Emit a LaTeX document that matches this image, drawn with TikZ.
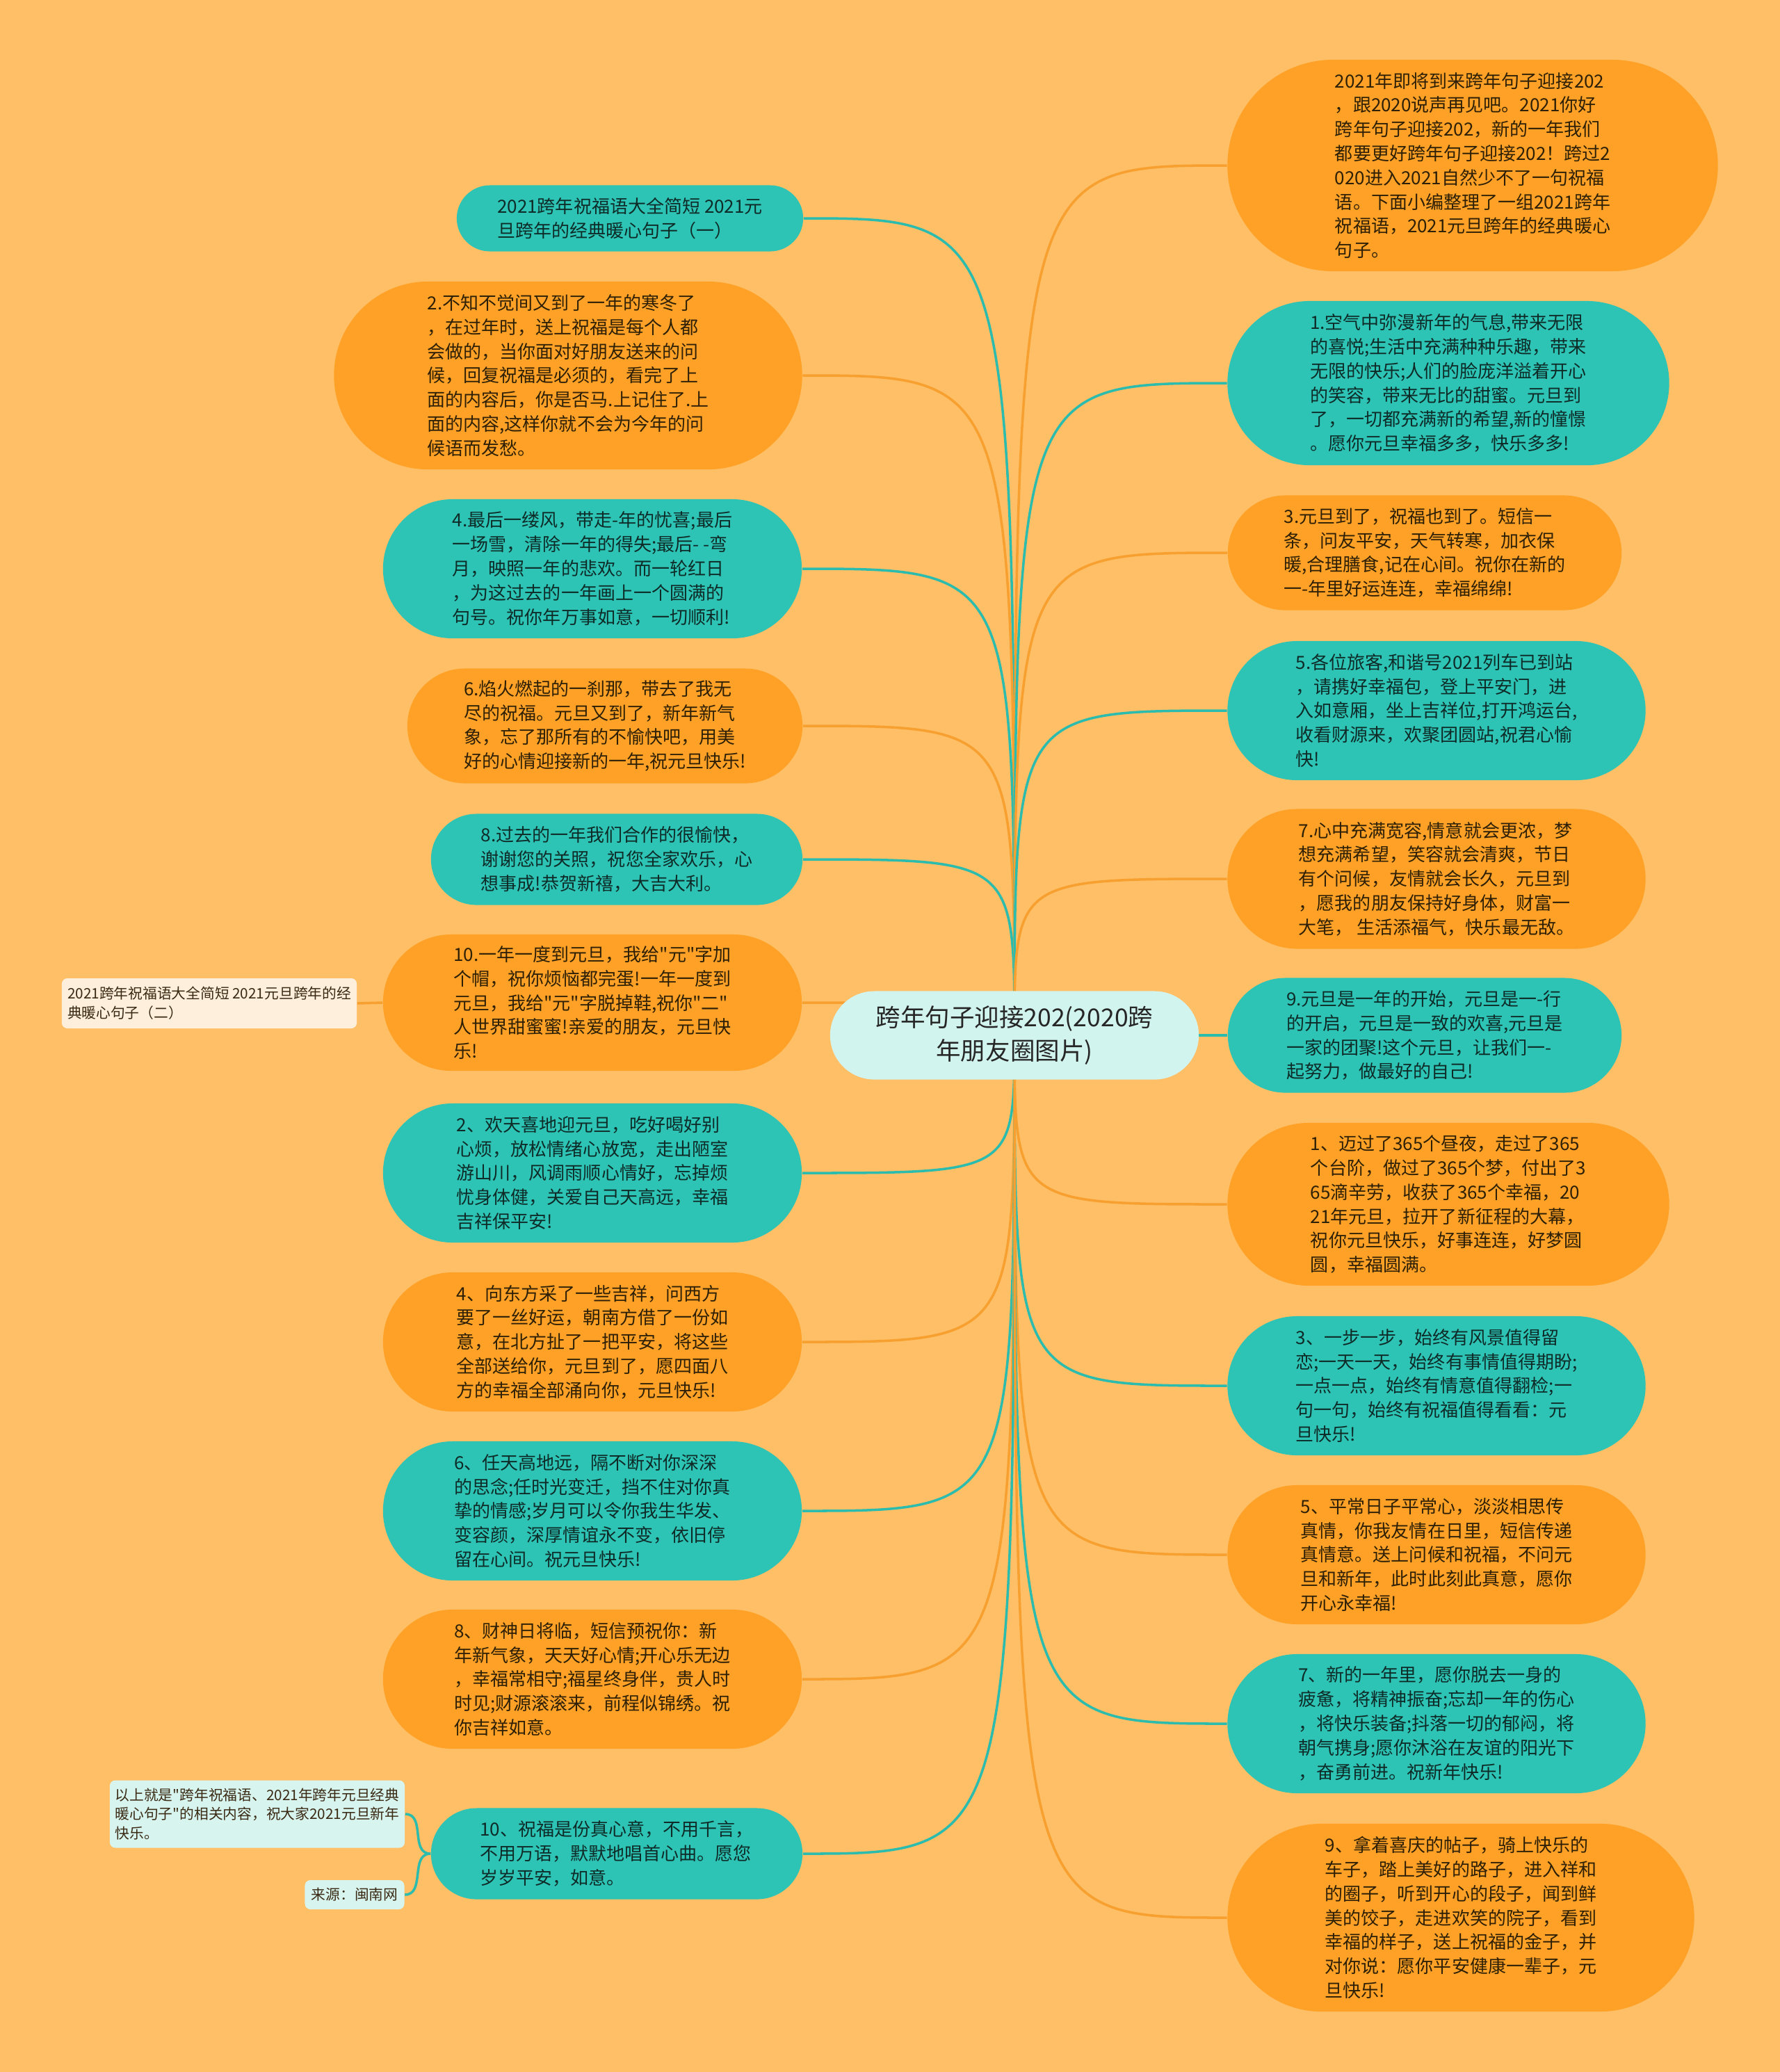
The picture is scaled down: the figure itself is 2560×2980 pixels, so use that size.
\documentclass[tikz,border=0pt]{standalone}
\usepackage{fontspec}
\setmainfont{Noto Sans CJK SC}[Ligatures=TeXOff]
\usetikzlibrary{shapes.misc,backgrounds}

\definecolor{bgorange}{HTML}{FFBF66}
\definecolor{nodeorange}{HTML}{FFA126}
\definecolor{nodeteal}{HTML}{2EC4B5}
\definecolor{lineorange}{HTML}{F7A030}
\definecolor{lineteal}{HTML}{2CBCAE}
\definecolor{centrefill}{HTML}{D2F4EF}
\definecolor{creamfill}{HTML}{FDEFDB}
\definecolor{mintfill}{HTML}{D8F4EF}
\definecolor{textbrown}{HTML}{2D2006}
\definecolor{textteal}{HTML}{0E2B28}
\definecolor{notetext}{HTML}{3A2A14}

\begin{document}
\begin{tikzpicture}[
    x=0.01cm, y=-0.01cm,
    pill/.style={rounded rectangle, inner sep=0pt, align=left, font=\fontsize{7.4}{9.9}\selectfont},
    opill/.style={pill, fill=nodeorange, text=textbrown},
    tpill/.style={pill, fill=nodeteal, text=textteal},
    wh/.style 2 args={minimum width=#1, minimum height=#2},
    note/.style={rectangle, rounded corners=0.08cm, inner sep=0pt, align=left, font=\fontsize{5.9}{7.9}\selectfont, text=notetext},
    oline/.style={draw=lineorange, line width=1pt},
    tline/.style={draw=lineteal, line width=1pt}
  ]
  \useasboundingbox (0,0) rectangle (2560,2980);

  % Central topic
  \node[rounded rectangle, fill=centrefill, text=black!85, align=center, inner sep=0pt,
        font=\fontsize{10.1}{13.5}\selectfont, wh={5.30cm}{1.27cm}] (c) at (1459,1489)
        {跨年句子迎接202(2020跨\\年朋友圈图片)};

  % Left branch
  \node[tpill, wh={4.98cm}{0.95cm}] (l1) at (906,314)
    {2021跨年祝福语大全简短 2021元\\旦跨年的经典暖心句子（一）};
  \node[opill, wh={6.73cm}{2.70cm}] (l2) at (817,540)
    {2.不知不觉间又到了一年的寒冬了\\，在过年时，送上祝福是每个人都\\会做的，当你面对好朋友送来的问\\候，回复祝福是必须的，看完了上\\面的内容后，你是否马.上记住了.上\\面的内容,这样你就不会为今年的问\\候语而发愁。};
  \node[tpill, wh={6.02cm}{2.00cm}] (l3) at (852,818)
    {4.最后一缕风，带走-年的忧喜;最后\\一场雪，清除一年的得失;最后- -弯\\月，映照一年的悲欢。而一轮红日\\，为这过去的一年画上一个圆满的\\句号。祝你年万事如意，一切顺利!};
  \node[opill, wh={5.68cm}{1.65cm}] (l4) at (870,1044)
    {6.焰火燃起的一刹那，带去了我无\\尽的祝福。元旦又到了，新年新气\\象，忘了那所有的不愉快吧，用美\\好的心情迎接新的一年,祝元旦快乐!};
  \node[tpill, wh={5.34cm}{1.31cm}] (l5) at (887,1236)
    {8.过去的一年我们合作的很愉快，\\谢谢您的关照，祝您全家欢乐，心\\想事成!恭贺新禧，大吉大利。};
  \node[opill, wh={6.02cm}{1.96cm}] (l6) at (852,1442)
    {10.一年一度到元旦，我给"元"字加\\个帽，祝你烦恼都完蛋!一年一度到\\元旦，我给"元"字脱掉鞋,祝你"二"\\人世界甜蜜蜜!亲爱的朋友，元旦快\\乐!};
  \node[tpill, wh={6.02cm}{2.00cm}] (l7) at (852,1687)
    {2、欢天喜地迎元旦，吃好喝好别\\心烦，放松情绪心放宽，走出陋室\\游山川，风调雨顺心情好，忘掉烦\\忧身体健，关爱自己天高远，幸福\\吉祥保平安!};
  \node[opill, wh={6.02cm}{2.00cm}] (l8) at (852,1930)
    {4、向东方采了一些吉祥，问西方\\要了一丝好运，朝南方借了一份如\\意，在北方扯了一把平安，将这些\\全部送给你，元旦到了，愿四面八\\方的幸福全部涌向你，元旦快乐!};
  \node[tpill, wh={6.02cm}{2.00cm}] (l9) at (852,2173)
    {6、任天高地远，隔不断对你深深\\的思念;任时光变迁，挡不住对你真\\挚的情感;岁月可以令你我生华发、\\变容颜，深厚情谊永不变，依旧停\\留在心间。祝元旦快乐!};
  \node[opill, wh={6.02cm}{2.00cm}] (l10) at (852,2415)
    {8、财神日将临，短信预祝你：新\\年新气象，天天好心情;开心乐无边\\，幸福常相守;福星终身伴，贵人时\\时见;财源滚滚来，前程似锦绣。祝\\你吉祥如意。};
  \node[tpill, wh={5.34cm}{1.31cm}] (l11) at (887,2666)
    {10、祝福是份真心意，不用千言，\\不用万语，默默地唱首心曲。愿您\\岁岁平安，如意。};

  % Notes on the far left
  \node[note, fill=creamfill, wh={4.24cm}{0.72cm}] (fl1) at (301,1443)
    {2021跨年祝福语大全简短 2021元旦跨年的经\\典暖心句子（二）};
  \node[note, fill=mintfill, wh={4.24cm}{0.97cm}] (fl2) at (370,2609)
    {以上就是"跨年祝福语、2021年跨年元旦经典\\暖心句子"的相关内容，祝大家2021元旦新年\\快乐。};
  \node[note, fill=mintfill, wh={1.43cm}{0.42cm}] (fl3) at (510,2725)
    {来源：闽南网};

  % Right branch
  \node[opill, wh={7.05cm}{3.04cm}] (r1) at (2118,238)
    {2021年即将到来跨年句子迎接202\\，跟2020说声再见吧。2021你好\\跨年句子迎接202，新的一年我们\\都要更好跨年句子迎接202！跨过2\\020进入2021自然少不了一句祝福\\语。下面小编整理了一组2021跨年\\祝福语，2021元旦跨年的经典暖心\\句子。};
  \node[tpill, wh={6.35cm}{2.36cm}] (r2) at (2083,551)
    {1.空气中弥漫新年的气息,带来无限\\的喜悦;生活中充满种种乐趣，带来\\无限的快乐;人们的脸庞洋溢着开心\\的笑容，带来无比的甜蜜。元旦到\\了，一切都充满新的希望,新的憧憬\\。愿你元旦幸福多多，快乐多多!};
  \node[opill, wh={5.66cm}{1.65cm}] (r3) at (2049,795)
    {3.元旦到了，祝福也到了。短信一\\条，问友平安，天气转寒，加衣保\\暖,合理膳食,记在心间。祝你在新的\\一-年里好运连连，幸福绵绵!};
  \node[tpill, wh={6.01cm}{2.00cm}] (r4) at (2066,1022)
    {5.各位旅客,和谐号2021列车已到站\\，请携好幸福包，登上平安门，进\\入如意厢，坐上吉祥位,打开鸿运台,\\收看财源来，欢聚团圆站,祝君心愉\\快!};
  \node[opill, wh={6.01cm}{2.01cm}] (r5) at (2066,1264)
    {7.心中充满宽容,情意就会更浓，梦\\想充满希望，笑容就会清爽，节日\\有个问候，友情就会长久，元旦到\\，愿我的朋友保持好身体，财富一\\大笔， 生活添福气，快乐最无敌。};
  \node[tpill, wh={5.66cm}{1.65cm}] (r6) at (2049,1489)
    {9.元旦是一年的开始，元旦是一-行\\的开启，元旦是一致的欢喜,元旦是\\一家的团聚!这个元旦，让我们一-\\起努力，做最好的自己!};
  \node[opill, wh={6.35cm}{2.34cm}] (r7) at (2083,1732)
    {1、迈过了365个昼夜，走过了365\\个台阶，做过了365个梦，付出了3\\65滴辛劳，收获了365个幸福，20\\21年元旦，拉开了新征程的大幕，\\祝你元旦快乐，好事连连，好梦圆\\圆，幸福圆满。};
  \node[tpill, wh={6.01cm}{2.00cm}] (r8) at (2066,1993)
    {3、一步一步，始终有风景值得留\\恋;一天一天，始终有事情值得期盼;\\一点一点，始终有情意值得翻检;一\\句一句，始终有祝福值得看看：元\\旦快乐!};
  \node[opill, wh={6.01cm}{2.00cm}] (r9) at (2066,2236)
    {5、平常日子平常心，淡淡相思传\\真情，你我友情在日里，短信传递\\真情意。送上问候和祝福，不问元\\旦和新年，此时此刻此真意，愿你\\开心永幸福!};
  \node[tpill, wh={6.01cm}{2.00cm}] (r10) at (2066,2479)
    {7、新的一年里，愿你脱去一身的\\疲惫，将精神振奋;忘却一年的伤心\\，将快乐装备;抖落一切的郁闷，将\\朝气携身;愿你沐浴在友谊的阳光下\\，奋勇前进。祝新年快乐!};
  \node[opill, wh={6.71cm}{2.70cm}] (r11) at (2101,2758)
    {9、拿着喜庆的帖子，骑上快乐的\\车子，踏上美好的路子，进入祥和\\的圈子，听到开心的段子，闻到鲜\\美的饺子，走进欢笑的院子，看到\\幸福的样子，送上祝福的金子，并\\对你说：愿你平安健康一辈子，元\\旦快乐!};

  \begin{scope}[on background layer]
    \fill[bgorange] (0,0) rectangle (2560,2980);

    % Edges, left
    \draw[tline] (c.center) .. controls (c.center |- l1.east) .. (l1.east);
    \draw[oline] (c.center) .. controls (c.center |- l2.east) .. (l2.east);
    \draw[tline] (c.center) .. controls (c.center |- l3.east) .. (l3.east);
    \draw[oline] (c.center) .. controls (c.center |- l4.east) .. (l4.east);
    \draw[tline] (c.center) .. controls (c.center |- l5.east) .. (l5.east);
    \draw[oline] (c.center) .. controls (c.center |- l6.east) .. (l6.east);
    \draw[tline] (c.center) .. controls (c.center |- l7.east) .. (l7.east);
    \draw[oline] (c.center) .. controls (c.center |- l8.east) .. (l8.east);
    \draw[tline] (c.center) .. controls (c.center |- l9.east) .. (l9.east);
    \draw[oline] (c.center) .. controls (c.center |- l10.east) .. (l10.east);
    \draw[tline] (c.center) .. controls (c.center |- l11.east) .. (l11.east);
    \draw[oline] (l6.west) -- (fl1.east);
    \draw[tline] (l11.west) .. controls +(-30,0) and +(30,0) .. (fl2.east);
    \draw[tline] (l11.west) .. controls +(-30,0) and +(30,0) .. (fl3.east);

    % Edges, right
    \draw[oline] (c.center) .. controls (c.center |- r1.west) .. (r1.west);
    \draw[tline] (c.center) .. controls (c.center |- r2.west) .. (r2.west);
    \draw[oline] (c.center) .. controls (c.center |- r3.west) .. (r3.west);
    \draw[tline] (c.center) .. controls (c.center |- r4.west) .. (r4.west);
    \draw[oline] (c.center) .. controls (c.center |- r5.west) .. (r5.west);
    \draw[tline] (c.center) .. controls (c.center |- r6.west) .. (r6.west);
    \draw[oline] (c.center) .. controls (c.center |- r7.west) .. (r7.west);
    \draw[tline] (c.center) .. controls (c.center |- r8.west) .. (r8.west);
    \draw[oline] (c.center) .. controls (c.center |- r9.west) .. (r9.west);
    \draw[tline] (c.center) .. controls (c.center |- r10.west) .. (r10.west);
    \draw[oline] (c.center) .. controls (c.center |- r11.west) .. (r11.west);
  \end{scope}
\end{tikzpicture}
\end{document}
